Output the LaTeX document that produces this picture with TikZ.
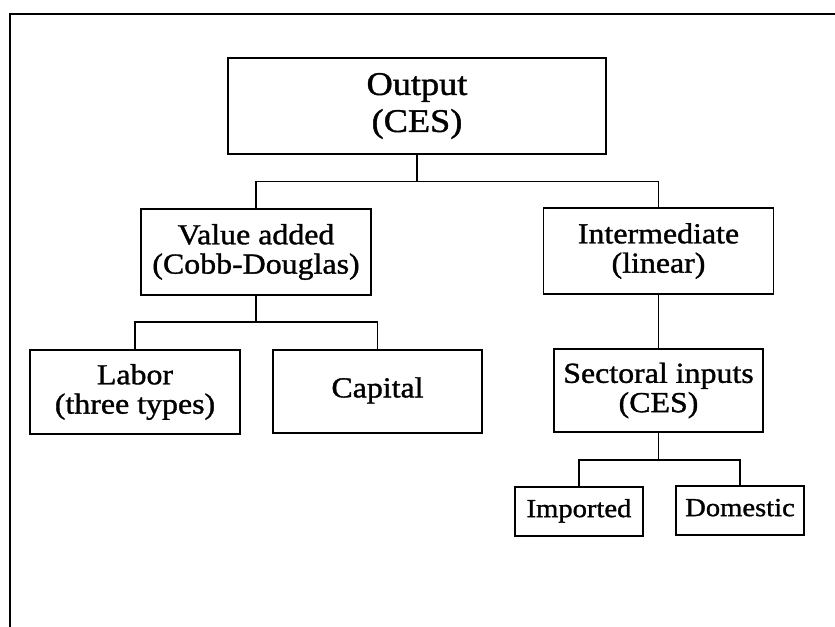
\documentclass[tikz,border=0pt]{standalone}
\usepackage{fontspec}
\setmainfont{Liberation Serif}
\newfontfamily\boxfont[FakeStretch=1.1,FakeBold=1.2]{Liberation Serif}
\begin{document}
\begin{tikzpicture}[x=0.75pt,y=-0.75pt,
  box/.style={draw, line width=1.2pt, inner sep=0pt, align=center,
    font=\boxfont\fontsize{21.75}{22}\selectfont},
  bigbox/.style={box, font=\boxfont\fontsize{24.75}{27.75}\selectfont},
  smallbox/.style={box, font=\boxfont\fontsize{19.5}{21}\selectfont},
  link/.style={line width=0.8pt},
  frame/.style={line width=1.3pt}]
\useasboundingbox (0,0) rectangle (835,626);
\draw[frame] (10,630) -- (10,14) -- (840,14);

\node[bigbox, minimum width=378*0.75pt, minimum height=96*0.75pt] (out) at (417,106) {Output\\(CES)};
\node[box, minimum width=230*0.75pt, minimum height=86*0.75pt] (va) at (256,252) {Value added\\(Cobb-Douglas)};
\node[box, minimum width=230*0.75pt, minimum height=86*0.75pt] (im) at (658.5,251) {Intermediate\\(linear)};
\node[box, minimum width=210*0.75pt, minimum height=84*0.75pt] (lab) at (135,392) {Labor\\(three types)};
\node[box, minimum width=209*0.75pt, minimum height=83*0.75pt] (cap) at (377.5,391.5) {\strut Capital};
\node[box, minimum width=209*0.75pt, minimum height=83*0.75pt] (sec) at (658.5,390.5) {Sectoral inputs\\(CES)};
\node[smallbox, minimum width=128*0.75pt, minimum height=49*0.75pt] (imp) at (579,511.5) {\strut Imported};
\node[smallbox, minimum width=128*0.75pt, minimum height=49*0.75pt] (dom) at (740,510.5) {\strut Domestic};

\coordinate (b1) at (417,181.5);
\coordinate (b2) at (256,322);
\coordinate (b3) at (658.5,460);

\draw[link] (out.south) -- (b1);
\draw[link] (va.north) |- (b1) -| (im.north);
\draw[link] (va.south) -- (b2);
\draw[link] (lab.north) |- (b2) -| (cap.north);
\draw[link] (im.south) -- (sec.north);
\draw[link] (sec.south) -- (b3);
\draw[link] (imp.north) |- (b3) -| (dom.north);
\end{tikzpicture}
\end{document}
